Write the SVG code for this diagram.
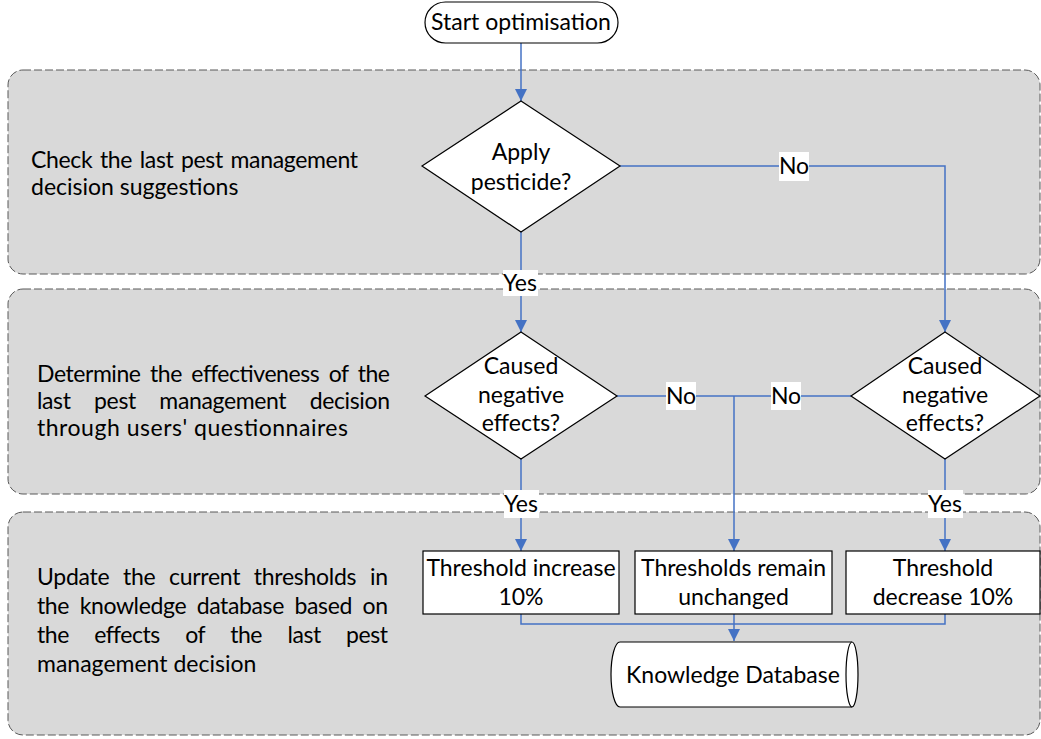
<svg xmlns="http://www.w3.org/2000/svg" width="1041" height="739" viewBox="0 0 1041 739">
  <style>
    text { font-family: Lato, "Liberation Sans", sans-serif; font-size: 23px; fill: #000; }
    .mid { text-anchor: middle; }
    .lane { fill: #d9d9d9; stroke: #595959; stroke-width: 1; stroke-dasharray: 8 3; }
    .shape { fill: #fff; stroke: #000; stroke-width: 1.2; }
    .conn { fill: none; stroke: #4472c4; stroke-width: 1.5; }
    .lbl { fill: #fff; stroke: none; }
  </style>
  <defs>
    <marker id="arrow" markerUnits="userSpaceOnUse" markerWidth="12" markerHeight="12" viewBox="0 0 12 12" refX="12" refY="6" orient="auto">
      <path d="M0,0 L12,6 L0,12 z" fill="#4472c4"/>
    </marker>
  </defs>

  <rect width="1041" height="739" fill="#fff"/>

  <!-- swimlanes; justified lines use word-spacing plus textLength -->
  <g id="lane-check">
    <rect class="lane" x="8" y="70" width="1032" height="204" rx="15"/>
    <text x="31" y="168" word-spacing="2" textLength="327" lengthAdjust="spacing">Check the last pest management</text>
    <text x="31" y="195">decision suggestions</text>
  </g>
  <g id="lane-determine">
    <rect class="lane" x="8" y="289" width="1032" height="205" rx="15"/>
    <text x="37" y="382" word-spacing="4" textLength="353" lengthAdjust="spacing">Determine the effectiveness of the</text>
    <text x="37" y="409" word-spacing="18" textLength="353" lengthAdjust="spacing">last pest management decision</text>
    <text x="37" y="436" textLength="311" lengthAdjust="spacing">through users' questionnaires</text>
  </g>
  <g id="lane-update">
    <rect class="lane" x="8" y="512" width="1032" height="223" rx="15"/>
    <text x="37" y="585" word-spacing="8" textLength="351" lengthAdjust="spacing">Update the current thresholds in</text>
    <text x="37" y="614" word-spacing="5" textLength="351" lengthAdjust="spacing">the knowledge database based on</text>
    <text x="37" y="643" word-spacing="20" textLength="351" lengthAdjust="spacing">the effects of the last pest</text>
    <text x="37" y="672">management decision</text>
  </g>

  <!-- connectors -->
  <g id="connectors">
    <path class="conn" d="M521,43 V101" marker-end="url(#arrow)"/>
    <path class="conn" d="M620,166 H945 V332" marker-end="url(#arrow)"/>
    <path class="conn" d="M521,232 V332" marker-end="url(#arrow)"/>
    <path class="conn" d="M617,396 H851"/>
    <path class="conn" d="M734,396 V551" marker-end="url(#arrow)"/>
    <path class="conn" d="M521,459 V551" marker-end="url(#arrow)"/>
    <path class="conn" d="M945,459 V551" marker-end="url(#arrow)"/>
    <path class="conn" d="M521,614 V624 H945 V614"/>
    <path class="conn" d="M734,614 V641" marker-end="url(#arrow)"/>

    <rect class="lbl" x="779" y="152" width="30" height="29"/>
    <text class="mid" x="794" y="174">No</text>
    <rect class="lbl" x="503" y="270" width="35" height="26"/>
    <text class="mid" x="520" y="291">Yes</text>
    <rect class="lbl" x="666" y="382" width="30" height="28"/>
    <text class="mid" x="681" y="404">No</text>
    <rect class="lbl" x="771" y="382" width="30" height="28"/>
    <text class="mid" x="786" y="404">No</text>
    <rect class="lbl" x="504" y="490" width="35" height="28"/>
    <text class="mid" x="521" y="512">Yes</text>
    <rect class="lbl" x="928" y="490" width="35" height="28"/>
    <text class="mid" x="945" y="512">Yes</text>
  </g>

  <!-- nodes -->
  <g id="start">
    <rect class="shape" x="425" y="2" width="193" height="41" rx="20.5"/>
    <text class="mid" x="521" y="30">Start optimisation</text>
  </g>
  <g id="apply-pesticide">
    <path class="shape" d="M521,101 L620,166 L521,232 L422,166 Z"/>
    <text class="mid" x="521" y="160">Apply</text>
    <text class="mid" x="521" y="190">pesticide?</text>
  </g>
  <g id="negative-left">
    <path class="shape" d="M521,332 L617,396 L521,459 L425,396 Z"/>
    <text class="mid" x="521" y="374">Caused</text>
    <text class="mid" x="521" y="403">negative</text>
    <text class="mid" x="521" y="431">effects?</text>
  </g>
  <g id="negative-right">
    <path class="shape" d="M945,332 L1040,396 L945,459 L851,396 Z"/>
    <text class="mid" x="945" y="374">Caused</text>
    <text class="mid" x="945" y="403">negative</text>
    <text class="mid" x="945" y="431">effects?</text>
  </g>
  <g id="threshold-increase">
    <rect class="shape" x="423" y="551" width="196" height="63"/>
    <text class="mid" x="521" y="576">Threshold increase</text>
    <text class="mid" x="521" y="605">10%</text>
  </g>
  <g id="threshold-unchanged">
    <rect class="shape" x="635" y="551" width="197" height="63"/>
    <text class="mid" x="733.5" y="576">Thresholds remain</text>
    <text class="mid" x="733.5" y="605">unchanged</text>
  </g>
  <g id="threshold-decrease">
    <rect class="shape" x="846" y="551" width="194" height="63"/>
    <text class="mid" x="943" y="576">Threshold</text>
    <text class="mid" x="943" y="605">decrease 10%</text>
  </g>
  <g id="knowledge-db">
    <path class="shape" d="M620,642 H852 A6,32.5 0 0 1 852,707 H620 A9,32.5 0 0 1 620,642 Z"/>
    <path class="shape" fill="none" d="M852,642 A6,32.5 0 0 0 852,707"/>
    <text class="mid" x="733" y="683">Knowledge Database</text>
  </g>
</svg>
